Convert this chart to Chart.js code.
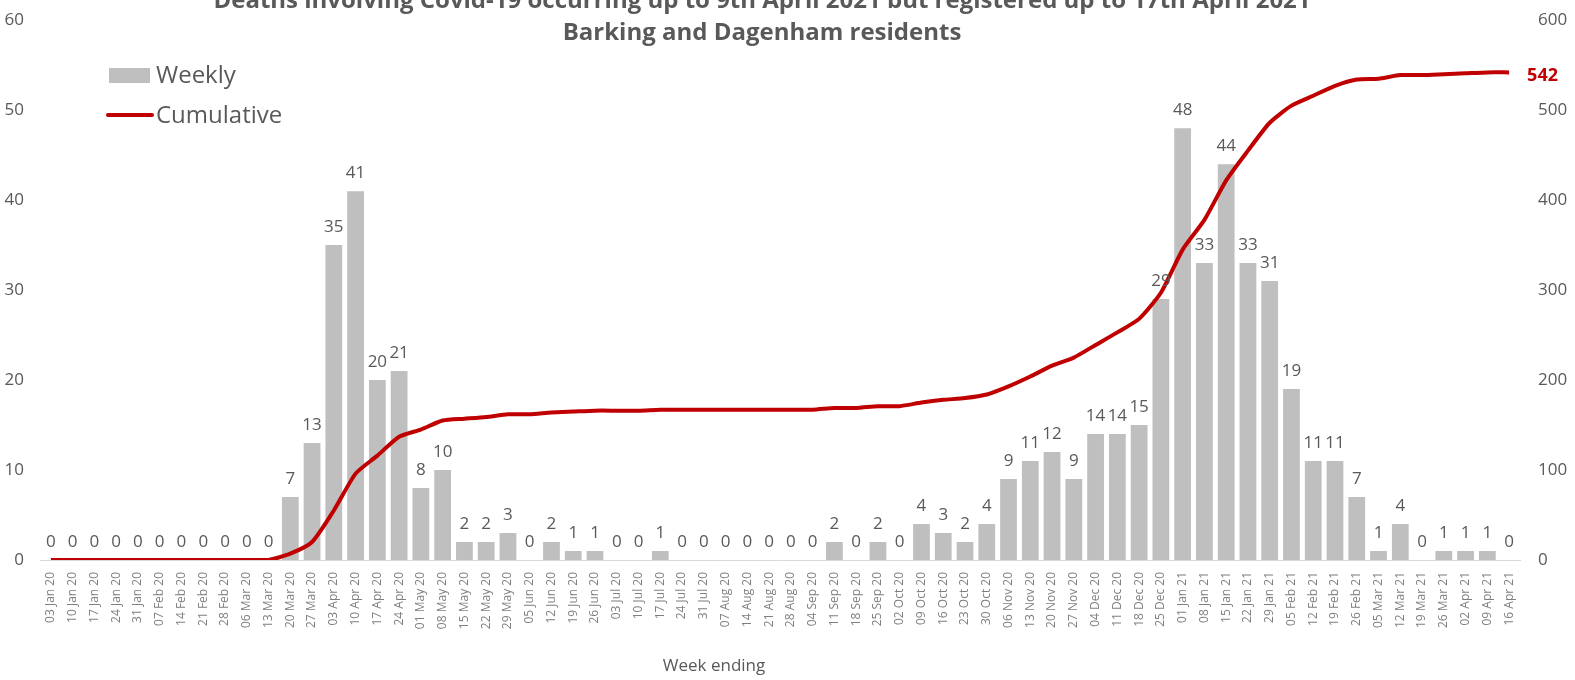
<!DOCTYPE html>
<html>
<head>
<meta charset="utf-8">
<script src="https://cdn.jsdelivr.net/npm/chart.js@4.4.0/dist/chart.umd.min.js"></script>
<style>
    html, body { margin: 0; padding: 0; background: #fff; overflow: hidden; }
    .chart-wrap { position: relative; width: 1575px; height: 680px; }
</style>
</head>
<body>
<div class="chart-wrap"><canvas id="covidChart" width="1575" height="680"></canvas></div>
<script>
// Week ending labels
const weeks = [
    '03 Jan 20', '10 Jan 20', '17 Jan 20', '24 Jan 20', '31 Jan 20', '07 Feb 20', '14 Feb 20', '21 Feb 20',
    '28 Feb 20', '06 Mar 20', '13 Mar 20', '20 Mar 20', '27 Mar 20', '03 Apr 20', '10 Apr 20', '17 Apr 20',
    '24 Apr 20', '01 May 20', '08 May 20', '15 May 20', '22 May 20', '29 May 20', '05 Jun 20', '12 Jun 20',
    '19 Jun 20', '26 Jun 20', '03 Jul 20', '10 Jul 20', '17 Jul 20', '24 Jul 20', '31 Jul 20', '07 Aug 20',
    '14 Aug 20', '21 Aug 20', '28 Aug 20', '04 Sep 20', '11 Sep 20', '18 Sep 20', '25 Sep 20', '02 Oct 20',
    '09 Oct 20', '16 Oct 20', '23 Oct 20', '30 Oct 20', '06 Nov 20', '13 Nov 20', '20 Nov 20', '27 Nov 20',
    '04 Dec 20', '11 Dec 20', '18 Dec 20', '25 Dec 20', '01 Jan 21', '08 Jan 21', '15 Jan 21', '22 Jan 21',
    '29 Jan 21', '05 Feb 21', '12 Feb 21', '19 Feb 21', '26 Feb 21', '05 Mar 21', '12 Mar 21', '19 Mar 21',
    '26 Mar 21', '02 Apr 21', '09 Apr 21', '16 Apr 21'
];

// Weekly deaths
const weekly = [
    0, 0, 0, 0, 0, 0, 0, 0, 0, 0, 0, 7, 13, 35, 41, 20,
    21, 8, 10, 2, 2, 3, 0, 2, 1, 1, 0, 0, 1, 0, 0, 0,
    0, 0, 0, 0, 2, 0, 2, 0, 4, 3, 2, 4, 9, 11, 12, 9,
    14, 14, 15, 29, 48, 33, 44, 33, 31, 19, 11, 11, 7, 1, 4, 0,
    1, 1, 1, 0
];

// Cumulative deaths
const cumulative = [
    0, 0, 0, 0, 0, 0, 0, 0, 0, 0, 0, 7, 20, 55, 96, 116,
    137, 145, 155, 157, 159, 162, 162, 164, 165, 166, 166, 166, 167, 167, 167, 167,
    167, 167, 167, 167, 169, 169, 171, 171, 175, 178, 180, 184, 193, 204, 216, 225,
    239, 253, 268, 297, 345, 378, 422, 455, 486, 505, 516, 527, 534, 535, 539, 539,
    540, 541, 542, 542
];

const titleLines = [
    'Deaths involving Covid-19 occurring up to 9th April 2021 but registered up to 17th April 2021',
    'Barking and Dagenham residents'
];

const FONT = '"Open Sans", "Noto Sans", sans-serif';
const TEXT = '#595959';
const BAR = '#bfbfbf';
const RED = '#c00000';

// Title, legend, axis title, bar values and end label
const decorations = {
    id: 'decorations',
    afterDatasetsDraw(chart) {
        const ctx = chart.ctx;
        ctx.save();

        // bar value labels
        const barMeta = chart.getDatasetMeta(1);
        ctx.fillStyle = TEXT;
        ctx.font = '17px ' + FONT;
        ctx.textAlign = 'center';
        ctx.textBaseline = 'alphabetic';
        barMeta.data.forEach((bar, i) => {
            ctx.fillText(String(weekly[i]), bar.x, bar.y - 13);
        });

        // last cumulative value
        const lineMeta = chart.getDatasetMeta(0);
        const last = lineMeta.data[lineMeta.data.length - 1];
        ctx.fillStyle = RED;
        ctx.font = 'bold 18px ' + FONT;
        ctx.textAlign = 'left';
        ctx.textBaseline = 'middle';
        ctx.fillText(String(cumulative[cumulative.length - 1]), last.x + 18, last.y + 3);

        // title
        ctx.fillStyle = TEXT;
        ctx.font = 'bold 24px ' + FONT;
        ctx.textAlign = 'center';
        ctx.fillText(titleLines[0], 762, 1);
        ctx.fillText(titleLines[1], 762, 33);

        // axis title
        ctx.font = '17px ' + FONT;
        ctx.fillText('Week ending', 714, 666);

        // legend
        ctx.font = '24px ' + FONT;
        ctx.textAlign = 'left';
        ctx.fillStyle = BAR;
        ctx.fillRect(109, 68, 41, 15);
        ctx.fillStyle = TEXT;
        ctx.fillText('Weekly', 156, 76);
        ctx.strokeStyle = RED;
        ctx.lineWidth = 4;
        ctx.lineCap = 'round';
        ctx.beginPath();
        ctx.moveTo(108, 115);
        ctx.lineTo(152, 115);
        ctx.stroke();
        ctx.fillText('Cumulative', 156, 116);

        ctx.restore();
    }
};

const ctx = document.getElementById('covidChart').getContext('2d');
new Chart(ctx, {
    type: 'bar',
    data: {
        labels: weeks,
        datasets: [
            {
                type: 'line',
                label: 'Cumulative',
                data: cumulative,
                yAxisID: 'y1',
                borderColor: RED,
                borderWidth: 4,
                pointRadius: 0,
                tension: 0.2,
                order: 0
            },
            {
                label: 'Weekly',
                data: weekly,
                yAxisID: 'y',
                backgroundColor: BAR,
                categoryPercentage: 1,
                barPercentage: 0.77,
                order: 1
            }
        ]
    },
    options: {
        responsive: false,
        animation: false,
        layout: { padding: { top: 5, left: 0, right: 0, bottom: 0 } },
        plugins: {
            legend: { display: false },
            tooltip: { enabled: false }
        },
        scales: {
            x: {
                grid: { display: false },
                border: { color: '#d9d9d9', width: 1 },
                ticks: {
                    autoSkip: false,
                    minRotation: 90,
                    maxRotation: 90,
                    padding: 4,
                    color: '#7f7f7f',
                    font: { family: FONT, size: 12 }
                },
                afterFit: scale => { scale.height = 120; }
            },
            y: {
                position: 'left',
                min: 0,
                max: 60,
                grid: { display: false },
                border: { display: false },
                ticks: {
                    stepSize: 10,
                    padding: 8,
                    color: TEXT,
                    font: { family: FONT, size: 17 }
                },
                afterFit: scale => { scale.width = 40; }
            },
            y1: {
                position: 'right',
                min: 0,
                max: 600,
                grid: { display: false },
                border: { display: false },
                ticks: {
                    stepSize: 100,
                    padding: 10,
                    color: TEXT,
                    font: { family: FONT, size: 17 }
                },
                afterFit: scale => { scale.width = 55; }
            }
        }
    },
    plugins: [decorations]
});
</script>
</body>
</html>
